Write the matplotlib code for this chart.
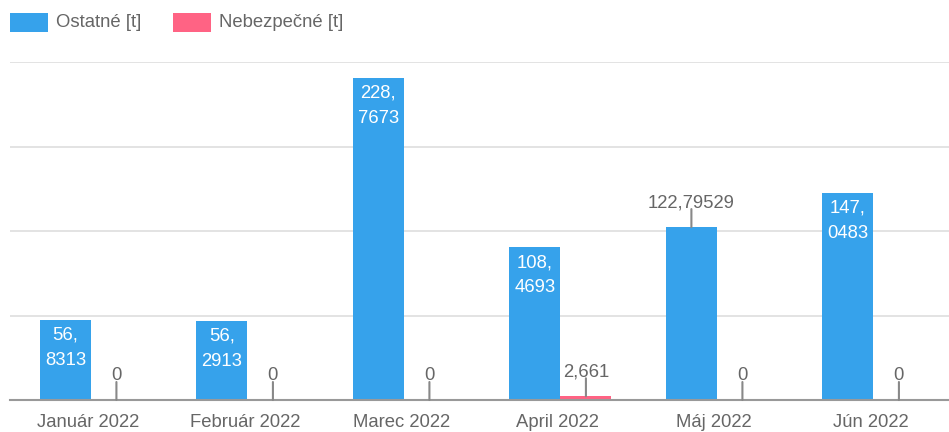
import matplotlib.pyplot as plt
from matplotlib.patches import Rectangle
import numpy as np

# --- data ---
mesiace = ["Január 2022", "Február 2022", "Marec 2022", "April 2022", "Máj 2022", "Jún 2022"]
ostatne = [56.8313, 56.2913, 228.7673, 108.4693, 122.79529, 147.0483]
nebezpecne = [0, 0, 0, 2.661, 0, 0]
ostatne_txt = ["56,8313", "56,2913", "228,7673", "108,4693", "122,79529", "147,0483"]
nebezpecne_txt = ["0", "0", "0", "2,661", "0", "0"]
legenda = ["Ostatné [t]", "Nebezpečné [t]"]

MODRA = "#36A2EB"
RUZOVA = "#FF6384"
SIVA = "#666666"

plt.rcParams["font.family"] = ["Liberation Sans", "DejaVu Sans"]
FS = 13.3

W, H = 949, 432
fig = plt.figure(figsize=(W / 100, H / 100), dpi=100)
ax = fig.add_axes([10 / W, 32 / H, (W - 10) / W, (400 - 62) / H])

x = np.arange(len(mesiace))
sirka = 0.326
posun = 0.017  # skupina stlpcov je mierne napravo od popisu
xm = x + posun - sirka / 2
xr = x + posun + sirka / 2
ax.bar(xm, ostatne, sirka, color=MODRA, zorder=3)
ax.bar(xr, nebezpecne, sirka, color=RUZOVA, zorder=3)

ax.set_xlim(-0.5, len(mesiace) - 0.5)
ax.set_ylim(0, 240)
ax.set_yticks([60, 120, 180, 240])
ax.grid(axis="y", color="#e0e0e0", lw=1.3, zorder=0)
ax.tick_params(axis="y", left=False, labelleft=False)
ax.set_xticks(x)
ax.set_xticklabels(mesiace, color=SIVA, fontsize=FS)
ax.tick_params(axis="x", length=0, pad=10)
for s in ["top", "right", "left"]:
    ax.spines[s].set_visible(False)
ax.spines["bottom"].set_color("#999999")
ax.spines["bottom"].set_linewidth(1.5)
ax.spines["bottom"].set_zorder(4)


def popis_vonku(xx, v, txt):
    ax.annotate("", xy=(xx, v), xytext=(0, 18), textcoords="offset pixels",
                arrowprops=dict(arrowstyle="-", color="#888888", lw=1.5,
                                shrinkA=0, shrinkB=0), zorder=5)
    ax.annotate(txt, xy=(xx, v), xytext=(0, 20), textcoords="offset pixels",
                ha="center", va="baseline", color=SIVA, fontsize=FS, zorder=5)


for i in range(len(mesiace)):
    cela, des = ostatne_txt[i].split(",")
    if len(des) <= 4:
        ax.annotate(cela + ",", xy=(xm[i], ostatne[i]), xytext=(0, -20),
                    textcoords="offset pixels", ha="center", va="baseline",
                    color="white", fontsize=FS, zorder=5)
        ax.annotate(des, xy=(xm[i], ostatne[i]), xytext=(0, -45),
                    textcoords="offset pixels", ha="center", va="baseline",
                    color="white", fontsize=FS, zorder=5)
    else:
        popis_vonku(xm[i], ostatne[i], ostatne_txt[i])
    popis_vonku(xr[i], nebezpecne[i], nebezpecne_txt[i])

# legenda
for lx, farba, txt in [(10, MODRA, legenda[0]), (173, RUZOVA, legenda[1])]:
    fig.add_artist(Rectangle((lx / W, (H - 32) / H), 38 / W, 19 / H,
                             transform=fig.transFigure, color=farba, lw=0))
    fig.text((lx + 46) / W, (H - 22.5) / H, txt, ha="left", va="center",
             color=SIVA, fontsize=FS)

fig.savefig("out.png", dpi=100)
